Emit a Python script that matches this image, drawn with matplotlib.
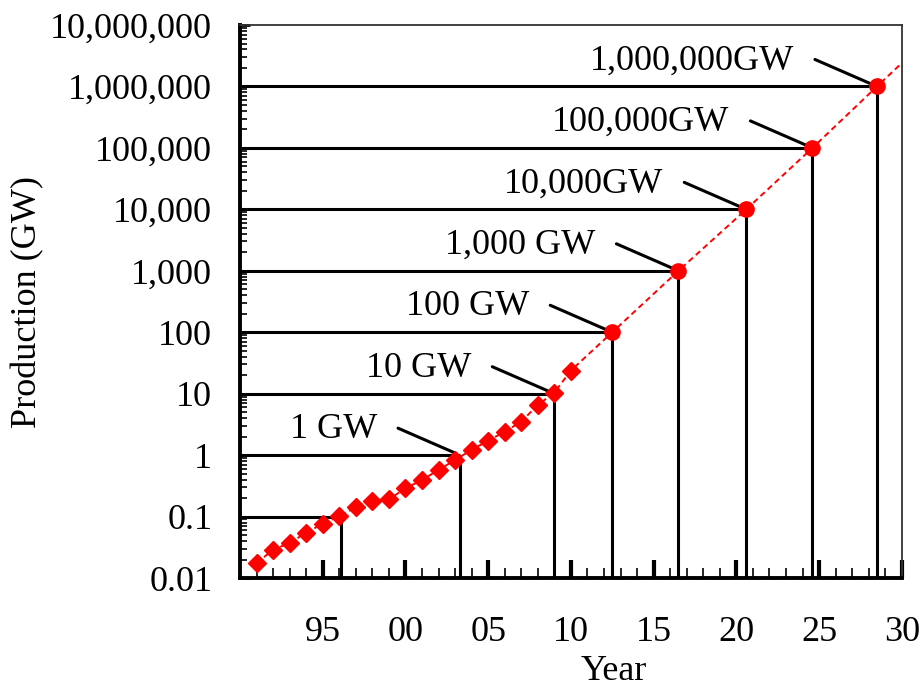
import matplotlib
matplotlib.use('Agg')
from matplotlib import pyplot as plt
from matplotlib.ticker import FixedLocator, LogLocator, MultipleLocator, NullFormatter

plt.rcParams['font.family'] = ['Liberation Serif', 'DejaVu Serif']
plt.rcParams['font.size'] = 26

# measured production (GW)
years = [1991, 1992, 1993, 1994, 1995, 1996, 1997, 1998, 1999, 2000,
         2001, 2002, 2003, 2004, 2005, 2006, 2007, 2008, 2009, 2010]
production = [0.0174, 0.029, 0.037, 0.055, 0.076, 0.102, 0.142, 0.182, 0.191, 0.289,
              0.394, 0.574, 0.836, 1.22, 1.72, 2.41, 3.51, 6.57, 10.4, 23.8]

# projection
proj_years = [2012.5, 2016.5, 2020.6, 2024.6, 2028.5]
proj_production = [100, 1000, 10000, 100000, 1000000]
trend_end_year = 2031
trend_end_value = 4.3e6

# milestones (crossing of each decade)
levels = [0.1, 1, 10, 100, 1000, 10000, 100000, 1000000]
level_years = [1996.1, 2003.3, 2009.0, 2012.5, 2016.5, 2020.6, 2024.6, 2028.5]
level_labels = [None, '1 GW', '10 GW', '100 GW', '1,000 GW', '10,000GW',
                '100,000GW', '1,000,000GW']

ytick_vals = [0.01, 0.1, 1, 10, 100, 1000, 10000, 100000, 1000000, 10000000]
ytick_labels = ['0.01', '0.1', '1', '10', '100', '1,000', '10,000', '100,000',
                '1,000,000', '10,000,000']
xtick_vals = [1995, 2000, 2005, 2010, 2015, 2020, 2025, 2030]
xtick_labels = ['95', '00', '05', '10', '15', '20', '25', '30']

fig = plt.figure(figsize=(9.23, 6.89), dpi=100)
ax = fig.add_axes([0.26, 0.161, 0.717, 0.8027])
ax.set_yscale('log')
ax.set_xlim(1990, 2030)
ax.set_ylim(0.01, 1e7)

# guide lines
for lvl, yr in zip(levels, level_years):
    ax.hlines(lvl, 1990, yr, color='k', lw=2.2, zorder=2)
    ax.vlines(yr, 0.01, lvl, color='k', lw=2.2, zorder=2)

# dashed trend through all points
ax.plot(years + proj_years + [trend_end_year],
        production + proj_production + [trend_end_value],
        color='#FF0000', ls=(0, (3, 2)), lw=1.4, zorder=3)
ax.plot(years, production, ls='none', marker='D', ms=9, color='#FF0000', zorder=4)
ax.plot(proj_years, proj_production, ls='none', marker='o', ms=11, color='#FF0000', zorder=4)

# labels with leader lines
for lvl, yr, lab in zip(levels, level_years, level_labels):
    if lab is None:
        continue
    ax.annotate('', xy=(yr, lvl), xytext=(-62, 27), textcoords='offset pixels',
                arrowprops=dict(arrowstyle='-', lw=2.2, color='k', shrinkA=0, shrinkB=4))
    ax.annotate(lab, xy=(yr, lvl), xytext=(-83, 17), textcoords='offset pixels',
                ha='right', va='baseline')

ax.yaxis.set_major_locator(FixedLocator(ytick_vals))
ax.set_yticklabels(ytick_labels)
ax.yaxis.set_minor_locator(LogLocator(base=10, subs=range(2, 10), numticks=20))
ax.yaxis.set_minor_formatter(NullFormatter())
ax.set_xticks(xtick_vals)
ax.set_xticklabels(xtick_labels)
ax.xaxis.set_minor_locator(MultipleLocator(1))

ax.tick_params(axis='x', which='major', direction='in', length=13, width=3, pad=27)
ax.tick_params(axis='x', which='minor', direction='in', length=7, width=1.2)
ax.tick_params(axis='y', which='major', direction='in', length=7, width=2, pad=20)
ax.tick_params(axis='y', which='minor', direction='in', length=5, width=1.2)

ax.spines['left'].set_linewidth(2.8)
ax.spines['bottom'].set_linewidth(2.8)
ax.spines['top'].set_linewidth(1.3)
ax.spines['right'].set_linewidth(1.3)
ax.spines['top'].set_color('#333333')
ax.spines['right'].set_color('#333333')

ax.set_xlabel('Year')
ax.xaxis.set_label_coords(0.565, -0.14)
ax.set_ylabel('Production (GW)')
ax.yaxis.set_label_coords(-0.295, 0.5)

fig.savefig('out.png', dpi=100)
